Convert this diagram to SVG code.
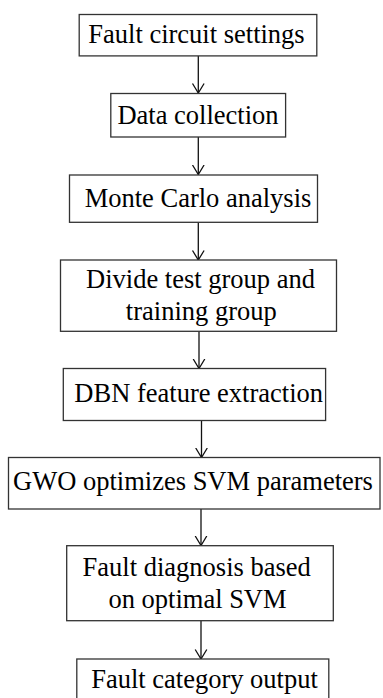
<svg xmlns="http://www.w3.org/2000/svg" width="383" height="698" viewBox="0 0 383 698">
<style>
.box{fill:#fff;stroke:#333;stroke-width:1.3}
.t{font-family:'Liberation Serif','Times New Roman','DejaVu Serif',serif;font-size:26.5px;fill:#000;text-anchor:middle}
.c{stroke:#111;stroke-width:1.3;fill:none}
</style>
<defs>
<marker id="ah" markerUnits="userSpaceOnUse" markerWidth="12" markerHeight="14" refX="10" refY="7" orient="auto" viewBox="0 0 12 14">
<path d="M0.5,1.2 L10,7 L0.5,12.8" fill="none" stroke="#111" stroke-width="1.3"/>
</marker>
</defs>
<rect width="383" height="698" fill="#fff"/>
<g id="connectors">
<line class="c" x1="198.3" y1="56" x2="198.3" y2="93" marker-end="url(#ah)"/>
<line class="c" x1="198.3" y1="137" x2="198.3" y2="174.5" marker-end="url(#ah)"/>
<line class="c" x1="198.3" y1="222.5" x2="198.3" y2="260" marker-end="url(#ah)"/>
<line class="c" x1="199" y1="331.5" x2="199" y2="368.5" marker-end="url(#ah)"/>
<line class="c" x1="201.5" y1="420.5" x2="201.5" y2="457.5" marker-end="url(#ah)"/>
<line class="c" x1="201" y1="509" x2="201" y2="545.5" marker-end="url(#ah)"/>
<line class="c" x1="201" y1="620.7" x2="201" y2="659" marker-end="url(#ah)"/>
</g>
<g id="n1"><rect class="box" x="79.2" y="14.5" width="237.6" height="41.4"/><text class="t" font-family="Liberation Serif, serif" x="196.5" y="42.5">Fault circuit settings</text></g>
<g id="n2"><rect class="box" x="110.8" y="93.5" width="174.8" height="43.5"/><text class="t" font-family="Liberation Serif, serif" x="198" y="124.3">Data collection</text></g>
<g id="n3"><rect class="box" x="69.5" y="175" width="248" height="47.3"/><text class="t" font-family="Liberation Serif, serif" x="198" y="206.7">Monte Carlo analysis</text></g>
<g id="n4"><rect class="box" x="60.5" y="260" width="276" height="71.3"/><text class="t" font-family="Liberation Serif, serif" x="200.5" y="288.3">Divide test group and</text><text class="t" font-family="Liberation Serif, serif" x="201.3" y="319.5">training group</text></g>
<g id="n5"><rect class="box" x="63.3" y="368.5" width="262.3" height="52"/><text class="t" font-family="Liberation Serif, serif" x="198.7" y="401.7">DBN feature extraction</text></g>
<g id="n6"><rect class="box" x="8.5" y="457.5" width="371.5" height="51.5"/><text class="t" font-family="Liberation Serif, serif" x="193" y="490">GWO optimizes SVM parameters</text></g>
<g id="n7"><rect class="box" x="66.7" y="545.7" width="266.6" height="75"/><text class="t" font-family="Liberation Serif, serif" x="196.7" y="576">Fault diagnosis based</text><text class="t" font-family="Liberation Serif, serif" x="197.5" y="608.3">on optimal SVM</text></g>
<g id="n8"><rect class="box" x="76.8" y="659" width="252" height="45"/><text class="t" font-family="Liberation Serif, serif" x="204.5" y="688">Fault category output</text></g>
</svg>
